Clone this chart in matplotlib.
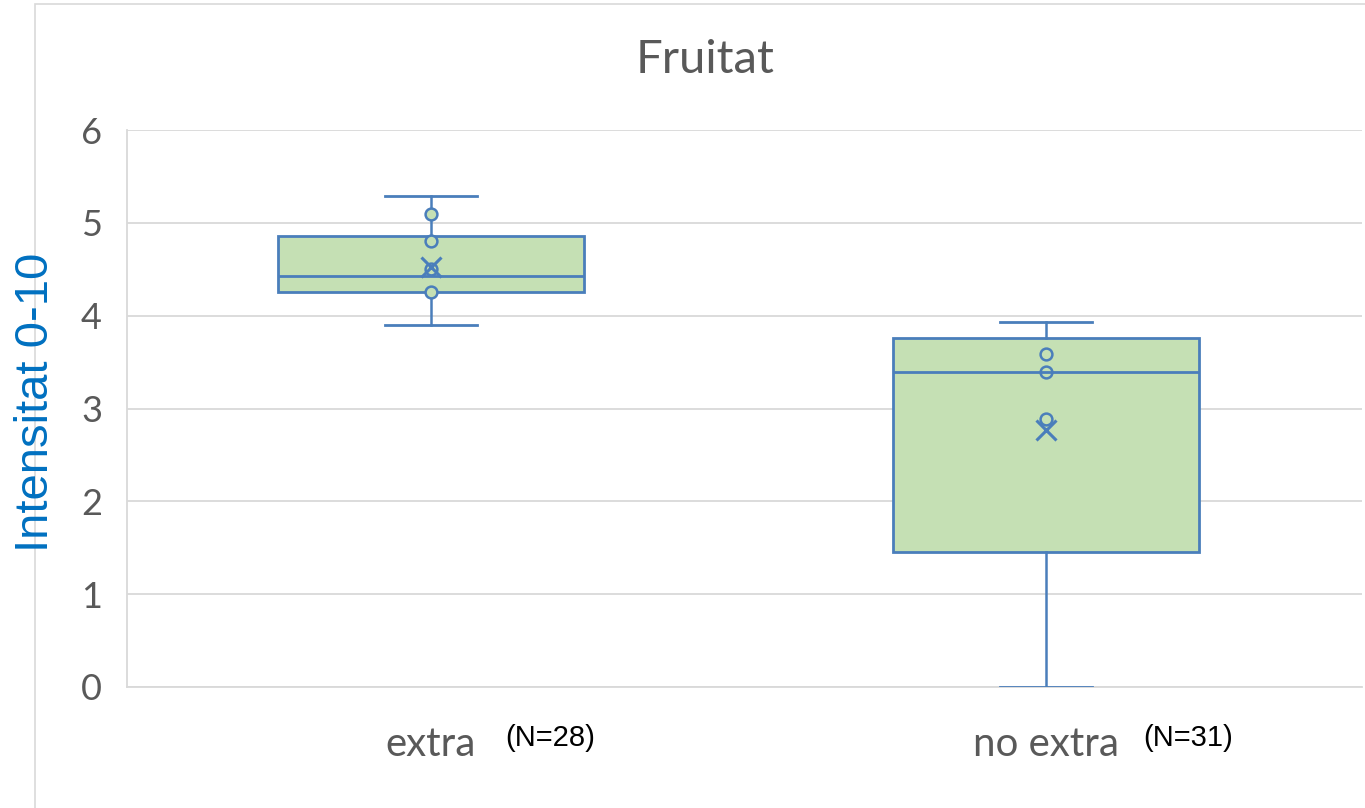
import numpy as np
import matplotlib
matplotlib.use("Agg")
import matplotlib.pyplot as plt
from matplotlib.patches import Rectangle

# box summary per group (Intensitat 0-10)
groups = ["extra", "no extra"]
counts = ["(N=28)", "(N=31)"]
q1 = [4.25, 1.45]
median = [4.43, 3.39]
q3 = [4.86, 3.76]
whisk_lo = [3.90, 0.0]
whisk_hi = [5.29, 3.93]
means = [4.52, 2.77]
inner_points = [[5.10, 4.80, 4.50, 4.25], [3.59, 3.39, 2.89]]

BLUE = "#4A7EBB"
GREEN = "#C5E0B4"
GREY_TXT = "#595959"
GRID = "#D9D9D9"

W, H = 1365, 808
fig = plt.figure(figsize=(W / 100, H / 100), dpi=100)
ax = fig.add_axes([127 / W, 1 - 687 / H, (1362 - 127) / W, (687 - 130) / H])

# outer chart frame
fig.add_artist(Rectangle((35 / W, -0.01), 1.0, 1 - 4 / H + 0.01,
                         transform=fig.transFigure, fill=False,
                         edgecolor=GRID, lw=1.2))

stats = []
for i in range(len(groups)):
    stats.append(dict(q1=q1[i], med=median[i], q3=q3[i], whislo=whisk_lo[i],
                      whishi=whisk_hi[i], mean=means[i],
                      fliers=np.array(inner_points[i]), label=groups[i]))

pos = np.arange(len(groups)) + 0.5
ax.bxp(stats, positions=pos, widths=0.496, showmeans=True, patch_artist=True,
       capwidths=0.15,
       boxprops=dict(facecolor=GREEN, edgecolor=BLUE, lw=2),
       medianprops=dict(color=BLUE, lw=2),
       whiskerprops=dict(color=BLUE, lw=1.8),
       capprops=dict(color=BLUE, lw=2),
       meanprops=dict(marker="x", markeredgecolor=BLUE, markersize=15, mew=2.2),
       flierprops=dict(marker="o", markerfacecolor=GREEN, markeredgecolor=BLUE,
                       markersize=8.5, mew=1.8),
       zorder=3)

ax.set_xlim(0.0057, 2.0138)
ax.set_ylim(0, 6)
ax.set_yticks(range(0, 7))
ax.yaxis.grid(True, color=GRID, lw=1.3, zorder=0)
for s in ["top", "right"]:
    ax.spines[s].set_visible(False)
for s in ["left", "bottom"]:
    ax.spines[s].set_color(GRID)
    ax.spines[s].set_linewidth(1.3)
ax.tick_params(length=0)
ax.tick_params(axis="y", pad=18, labelsize=26, labelcolor=GREY_TXT)
ax.tick_params(axis="x", pad=28, labelsize=29, labelcolor=GREY_TXT)
for lab in ax.get_xticklabels() + ax.get_yticklabels():
    lab.set_family("Lato")

# sample sizes next to the category labels
offsets = [74, 97]
for p, c, off in zip(pos, counts, offsets):
    ax.annotate(c, xy=(p, 0), xycoords=("data", "axes fraction"),
                xytext=(off * 0.72, -37), textcoords="offset points",
                ha="left", va="center", fontsize=21, color="black",
                family="Liberation Sans")

fig.text(705 / W, 1 - 60 / H, "Fruitat", ha="center", va="center",
         fontsize=34, color=GREY_TXT, family="Lato")
fig.text(36 / W, 1 - 402 / H, "Intensitat 0-10", ha="center", va="center",
         rotation=90, fontsize=34, color="#0070C0",
         family=["Liberation Sans Narrow", "Liberation Sans"])

fig.savefig("out.png", dpi=100)
